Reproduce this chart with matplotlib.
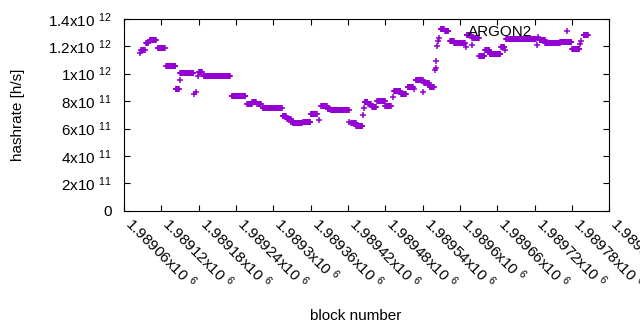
import matplotlib
matplotlib.use('Agg')
import matplotlib.pyplot as plt
import numpy as np

plt.rcParams['font.family'] = ['Liberation Sans', 'DejaVu Sans']
plt.rcParams['mathtext.fontset'] = 'custom'
plt.rcParams['mathtext.rm'] = 'Liberation Sans'
plt.rcParams['mathtext.it'] = 'Liberation Sans:italic'
plt.rcParams['mathtext.bf'] = 'Liberation Sans:bold'

# hashrate estimate per block, stored as runs of consecutive blocks
# that share the same value (values in GH/s)
run_start = [1989085, 1989087, 1989095, 1989101, 1989114, 1989128, 1989143, 1989149,
             1989150, 1989173, 1989175, 1989178, 1989180, 1989188, 1989233, 1989258,
             1989266, 1989274, 1989283, 1989315, 1989322, 1989329, 1989332, 1989348,
             1989360, 1989374, 1989377, 1989387, 1989392, 1989422, 1989425, 1989433,
             1989444, 1989445, 1989447, 1989452, 1989459, 1989467, 1989480, 1989492,
             1989494, 1989505, 1989516, 1989526, 1989529, 1989541, 1989542, 1989551,
             1989559, 1989561, 1989562, 1989563, 1989565, 1989566, 1989569, 1989576,
             1989584, 1989591, 1989610, 1989611, 1989619, 1989620, 1989631, 1989640,
             1989648, 1989666, 1989673, 1989674, 1989724, 1989726, 1989728, 1989737,
             1989761, 1989780, 1989793, 1989795, 1989799]
run_end = [1989085, 1989093, 1989099, 1989111, 1989125, 1989142, 1989148, 1989149,
           1989171, 1989173, 1989175, 1989178, 1989185, 1989230, 1989255, 1989265,
           1989272, 1989280, 1989313, 1989320, 1989328, 1989331, 1989346, 1989359,
           1989370, 1989374, 1989386, 1989391, 1989421, 1989422, 1989432, 1989443,
           1989444, 1989445, 1989451, 1989457, 1989465, 1989479, 1989489, 1989492,
           1989504, 1989513, 1989524, 1989526, 1989540, 1989541, 1989550, 1989558,
           1989559, 1989561, 1989562, 1989563, 1989565, 1989566, 1989574, 1989581,
           1989590, 1989608, 1989610, 1989617, 1989619, 1989630, 1989639, 1989647,
           1989665, 1989671, 1989673, 1989722, 1989724, 1989726, 1989736, 1989760,
           1989779, 1989792, 1989793, 1989795, 1989805]
run_rate = [1152, 1174, 1221, 1245, 1186, 1055, 887, 952,
            1004, 849, 868, 981, 1010, 981, 836, 780,
            795, 777, 749, 689, 667, 649, 637, 647,
            705, 661, 762, 744, 734, 645, 638, 622,
            702, 751, 797, 778, 760, 798, 766, 833,
            877, 853, 904, 886, 952, 868, 930, 904,
            1025, 1045, 1090, 1200, 1240, 1260, 1327, 1309,
            1236, 1227, 1191, 1283, 1210, 1259, 1126, 1169,
            1145, 1197, 1174, 1250, 1207, 1265, 1247, 1223,
            1234, 1183, 1218, 1239, 1281]

x_ticks = np.arange(1989060, 1989841, 60)
x_labels = ['1.98906', '1.98912', '1.98918', '1.98924', '1.9893', '1.98936', '1.98942',
            '1.98948', '1.98954', '1.9896', '1.98966', '1.98972', '1.98978', '1.98984']
y_ticks = np.arange(0, 1.41e12, 2e11)
y_labels = ['0', '2x10 $^{11}$', '4x10 $^{11}$', '6x10 $^{11}$', '8x10 $^{11}$',
            '1x10 $^{12}$', '1.2x10 $^{12}$', '1.4x10 $^{12}$']

blocks = np.concatenate([np.arange(s, e + 1) for s, e in zip(run_start, run_end)])
rates = np.concatenate([np.full(e - s + 1, r * 1e9) for s, e, r in zip(run_start, run_end, run_rate)])

fig = plt.figure(figsize=(6.4, 3.3), dpi=100)
ax = fig.add_axes([0.194, 0.361, 0.758, 0.582])

ax.plot(blocks, rates, linestyle='none', marker='+', ms=5, mew=1.1,
        color='#9400d3', label='ARGON2')

ax.set_xlim(1989060, 1989840)
ax.set_ylim(0, 1.4e12)
ax.set_xticks(x_ticks)
ax.set_xticklabels([l + 'x10 $^{6}$' for l in x_labels], rotation=-45, ha='left',
                   va='baseline', rotation_mode='anchor')
ax.set_yticks(y_ticks)
ax.set_yticklabels(y_labels)
ax.tick_params(direction='in', length=4.5, width=0.8, top=True, right=True, labelsize=11)
ax.tick_params(axis='x', pad=10)
ax.tick_params(axis='y', pad=9)

ax.set_ylabel('hashrate [h/s]', fontsize=11, va='center')
ax.yaxis.set_label_coords(-0.219, 0.5)
ax.set_xlabel('block number', fontsize=11, va='center')
ax.xaxis.set_label_coords(0.477, -0.547)

ax.legend(loc='upper right', bbox_to_anchor=(0.9575, 1.0), borderaxespad=0,
          frameon=False, markerfirst=False, handletextpad=1.29, handlelength=2,
          fontsize=11, numpoints=1)

fig.savefig('out.png', dpi=100)
